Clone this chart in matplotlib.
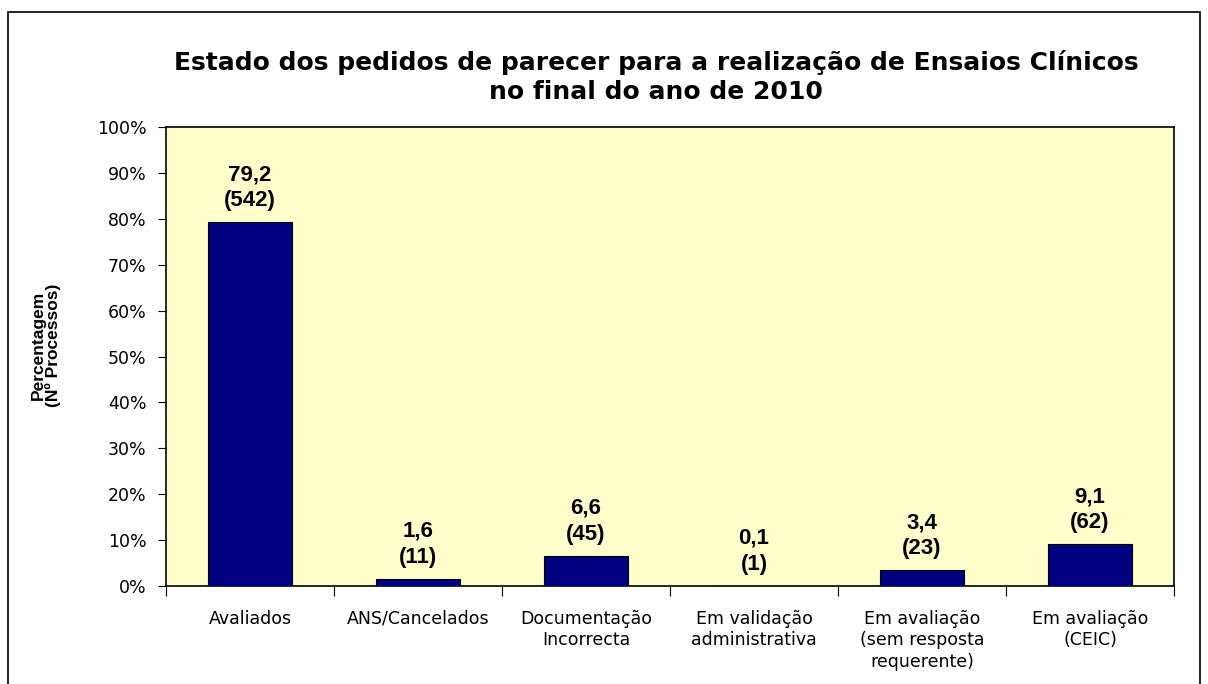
import matplotlib.pyplot as plt
from matplotlib import font_manager
from matplotlib.patches import Rectangle

categories = ["Avaliados", "ANS/Cancelados", "Documentação\nIncorrecta",
              "Em validação\nadministrativa", "Em avaliação\n(sem resposta\nrequerente)",
              "Em avaliação\n(CEIC)"]
percent = [79.2, 1.6, 6.6, 0.1, 3.4, 9.1]
counts = [542, 11, 45, 1, 23, 62]

BAR_COLOR = "#000080"
BG_COLOR = "#FFFFCC"


def arial_bold():
    # pick the regular-width Liberation Sans Bold, not the Narrow variant
    for f in font_manager.fontManager.ttflist:
        if (f.name == "Liberation Sans" and f.weight in (700, "bold") and f.style == "normal"
                and "narrow" not in f.fname.lower()):
            return font_manager.FontProperties(fname=f.fname)
    return font_manager.FontProperties(family="DejaVu Sans", weight="bold")


def bold_props(size):
    fp = arial_bold().copy()
    fp.set_size(size)
    return fp


fig = plt.figure(figsize=(12.08, 6.84), dpi=100)
ax = fig.add_axes([166 / 1208, 1 - 586 / 684, (1174 - 166) / 1208, (586 - 127) / 684])
ax.set_facecolor(BG_COLOR)

x = list(range(len(categories)))
ax.bar(x, percent, width=0.5, color=BAR_COLOR, edgecolor="black", linewidth=0.8, zorder=3)

for xi, p, n in zip(x, percent, counts):
    ax.text(xi, p + 2.4, f"{p:.1f}".replace(".", ",") + f"\n({n})",
            ha="center", va="bottom", fontproperties=bold_props(16), linespacing=1.3)

ax.set_xlim(-0.5, len(categories) - 0.5)
ax.set_ylim(0, 100)
ax.set_yticks(range(0, 101, 10))
ax.set_yticklabels([f"{v}%" for v in range(0, 101, 10)], fontsize=12.5)
ax.set_xticks([i - 0.5 for i in range(len(categories) + 1)])
ax.set_xticklabels([])
ax.set_xticks(x, minor=True)
ax.set_xticklabels(categories, minor=True, fontsize=12.5, linespacing=1.25)
ax.tick_params(axis="x", which="minor", length=0, pad=17)
ax.tick_params(axis="x", which="major", length=7, direction="out")
ax.tick_params(axis="y", length=6, direction="out", pad=8)
for s in ax.spines.values():
    s.set_linewidth(1.2)

ax.set_ylabel("Percentagem\n(Nº Processos)", fontproperties=bold_props(12.5), linespacing=0.95)
ax.yaxis.set_label_coords((61 - 166) / 1008, (586 - 345) / 459)

fig.text(656 / 1208, 1 - 77 / 684,
         "Estado dos pedidos de parecer para a realização de Ensaios Clínicos\nno final do ano de 2010",
         ha="center", va="center", fontsize=18, fontweight="bold", linespacing=1.28)

fig.patches.append(Rectangle((8 / 1208, -0.01), (1200 - 8) / 1208, 1 - 12 / 684 + 0.01,
                             transform=fig.transFigure, fill=False,
                             edgecolor="black", linewidth=1.2))

fig.savefig("out.png", dpi=100)
